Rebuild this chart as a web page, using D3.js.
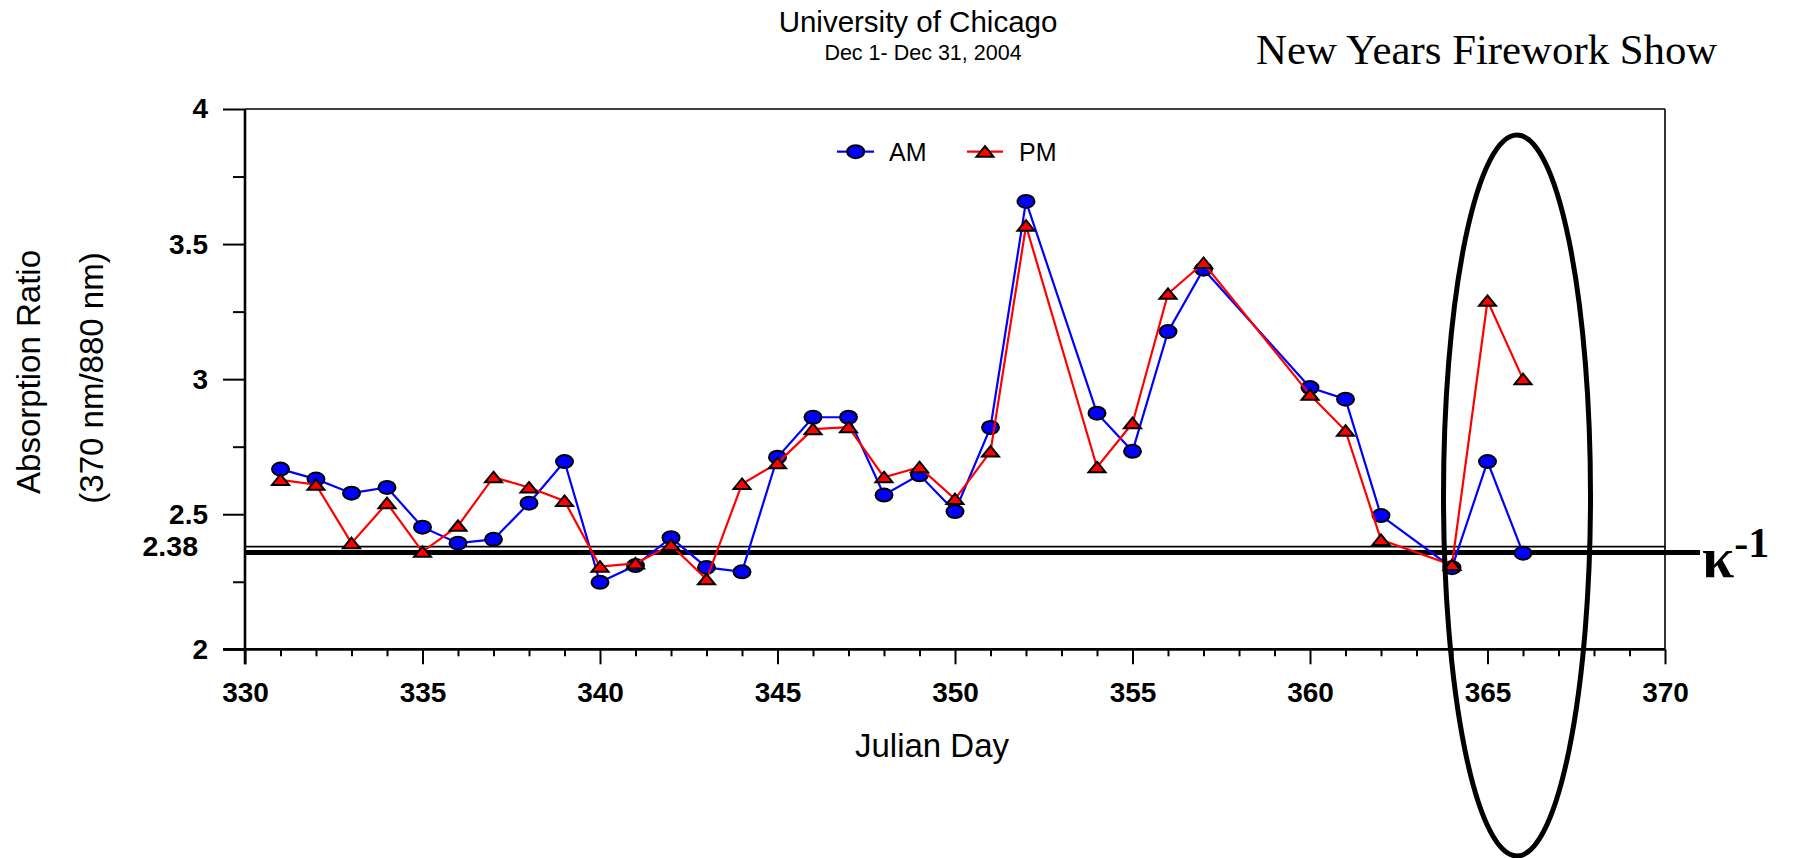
<!DOCTYPE html>
<html><head><meta charset="utf-8">
<script src="https://cdn.jsdelivr.net/npm/d3@7"></script>
<style>body{margin:0;background:#fff}svg{display:block}</style>
</head><body>
<svg id="c" width="1796" height="858"></svg>
<script>
const days = [331,332,333,334,335,336,337,338,339,340,341,342,343,344,345,346,347,348,349,350,351,352,354,355,356,357,360,361,362,364,365,366];
const amValues = [2.667,2.63,2.578,2.599,2.452,2.393,2.407,2.541,2.695,2.248,2.31,2.413,2.303,2.287,2.711,2.859,2.859,2.571,2.646,2.51,2.821,3.658,2.874,2.733,3.176,3.407,2.969,2.926,2.495,2.302,2.695,2.356];
const pmValues = [2.627,2.609,2.393,2.541,2.361,2.457,2.637,2.599,2.549,2.306,2.318,2.386,2.259,2.612,2.689,2.815,2.822,2.637,2.674,2.556,2.732,3.568,2.674,2.837,3.316,3.43,2.942,2.809,2.405,2.312,3.29,3.0];
const xTicks = [330,335,340,345,350,355,360,365,370];
const yTicks = [2,2.5,3,3.5,4];
const yMinor = [2.25,2.75,3.25,3.75];
const thinRef = 2.38;
const kappaRef = 2.358;
const highlightDay = 366;

const svg = d3.select("#c");
const L=245, R=1665, T=109, B=649.3;
const x = d3.scaleLinear().domain([330,370]).range([L,R]);
const y = d3.scaleLinear().domain([2,4]).range([B,T]);
const sans = "'Liberation Sans', Arial, sans-serif";
const serif = "'Liberation Serif', 'Times New Roman', serif";

// titles
svg.append("text").attr("x",918).attr("y",31.5).attr("text-anchor","middle")
  .attr("font-family",sans).attr("font-size",29.5).text("University of Chicago");
svg.append("text").attr("x",923).attr("y",60).attr("text-anchor","middle")
  .attr("font-family",sans).attr("font-size",21.5).text("Dec 1- Dec 31, 2004");
svg.append("text").attr("x",1256).attr("y",64)
  .attr("font-family",serif).attr("font-size",42.8).text("New Years Firework Show");

// frame
const g = svg.append("g");
g.append("line").attr("x1",L).attr("x2",R).attr("y1",T).attr("y2",T).attr("stroke","#000").attr("stroke-width",1.6);
g.append("line").attr("x1",R).attr("x2",R).attr("y1",T).attr("y2",B).attr("stroke","#000").attr("stroke-width",1.6);

// axes
g.append("g").attr("transform",`translate(0,${B})`)
  .call(d3.axisBottom(x).tickValues(xTicks).tickSize(15).tickPadding(17.5).tickFormat(d3.format("d")));
const xMinorVals = d3.range(331,370).filter(d=>d%5!==0);
g.append("g").attr("transform",`translate(0,${B})`)
  .call(d3.axisBottom(x).tickValues(xMinorVals).tickSize(7).tickFormat(""));
g.append("g").attr("transform",`translate(${L},0)`)
  .call(d3.axisLeft(y).tickValues(yTicks).tickSize(22).tickPadding(15).tickFormat(d=>d3.format("")(d)));
g.append("g").attr("transform",`translate(${L},0)`)
  .call(d3.axisLeft(y).tickValues(yMinor).tickSize(12).tickFormat(""));
g.selectAll(".domain").remove();
g.selectAll(".tick line").attr("stroke","#000").attr("stroke-width",2);
g.selectAll(".tick text").attr("font-family",sans).attr("font-size",28).attr("font-weight","bold").attr("fill","#000");
g.append("line").attr("x1",L).attr("x2",L).attr("y1",T).attr("y2",B+15).attr("stroke","#000").attr("stroke-width",2.6);
g.append("line").attr("x1",L-22).attr("x2",R).attr("y1",B).attr("y2",B).attr("stroke","#000").attr("stroke-width",2.8);

// reference lines
g.append("line").attr("x1",L).attr("x2",R).attr("y1",y(thinRef)).attr("y2",y(thinRef)).attr("stroke","#000").attr("stroke-width",1.6);
g.append("line").attr("x1",L).attr("x2",1700).attr("y1",y(kappaRef)).attr("y2",y(kappaRef)).attr("stroke","#000").attr("stroke-width",5);
svg.append("text").attr("x",L-47).attr("y",y(thinRef)).attr("dy","0.34em").attr("text-anchor","end")
  .attr("font-family",sans).attr("font-size",28.5).attr("font-weight","bold").text(thinRef);
const kt = svg.append("text").attr("x",1702).attr("y",577).attr("font-family",serif).attr("font-weight","bold");
kt.append("tspan").attr("font-size",58).text("κ");
kt.append("tspan").attr("font-size",42).attr("dy",-20).text("-1");

// axis titles
svg.append("text").attr("x",932).attr("y",757).attr("text-anchor","middle")
  .attr("font-family",sans).attr("font-size",33).text("Julian Day");
svg.append("text").attr("transform","translate(40,372) rotate(-90)").attr("text-anchor","middle")
  .attr("font-family",sans).attr("font-size",33).text("Absorption Ratio");
svg.append("text").attr("transform","translate(103,378) rotate(-90)").attr("text-anchor","middle")
  .attr("font-family",sans).attr("font-size",33).text("(370 nm/880 nm)");

// series
const amData = days.map((d,i)=>({d, v:amValues[i]}));
const pmData = days.map((d,i)=>({d, v:pmValues[i]}));
const line = d3.line().x(p=>x(p.d)).y(p=>y(p.v));
const tri = "M0,-5.5L8.5,5L-8.5,5Z";

g.append("path").datum(amData).attr("d",line).attr("fill","none").attr("stroke","#0000ff").attr("stroke-width",2.2);
g.selectAll(".am").data(amData).join("ellipse").attr("cx",p=>x(p.d)).attr("cy",p=>y(p.v))
  .attr("rx",8.5).attr("ry",6.5).attr("fill","#0000ff").attr("stroke","#000").attr("stroke-width",2);
g.append("path").datum(pmData).attr("d",line).attr("fill","none").attr("stroke","#ff0000").attr("stroke-width",2.2);
g.selectAll(".pm").data(pmData).join("path").attr("d",tri)
  .attr("transform",p=>`translate(${x(p.d)},${y(p.v)})`)
  .attr("fill","#ff0000").attr("stroke","#000").attr("stroke-width",2);

// legend
const lg = svg.append("g");
lg.append("line").attr("x1",837).attr("x2",874).attr("y1",151.7).attr("y2",151.7).attr("stroke","#0000ff").attr("stroke-width",2.2);
lg.append("ellipse").attr("cx",855.7).attr("cy",151.7).attr("rx",8.5).attr("ry",6.5).attr("fill","#0000ff").attr("stroke","#000").attr("stroke-width",2);
lg.append("text").attr("x",889).attr("y",161).attr("font-family",sans).attr("font-size",25).text("AM");
lg.append("line").attr("x1",967).attr("x2",1003).attr("y1",151.7).attr("y2",151.7).attr("stroke","#ff0000").attr("stroke-width",2.2);
lg.append("path").attr("d",tri).attr("transform","translate(985,151.7)").attr("fill","#ff0000").attr("stroke","#000").attr("stroke-width",2);
lg.append("text").attr("x",1019).attr("y",161).attr("font-family",sans).attr("font-size",25).text("PM");

// highlight ellipse
svg.append("ellipse").attr("cx",x(highlightDay)-6).attr("cy",495.5).attr("rx",73.5).attr("ry",360.5)
  .attr("fill","none").attr("stroke","#000").attr("stroke-width",5);
</script>
</body></html>
